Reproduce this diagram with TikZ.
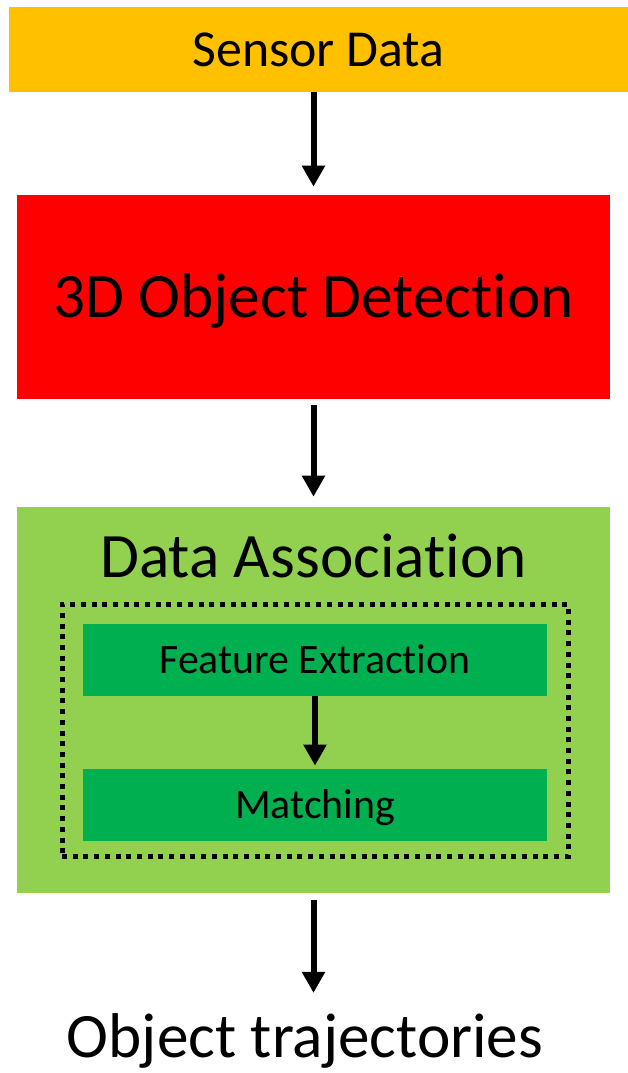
\documentclass[tikz,border=0pt]{standalone}
\usepackage{fontspec}
\setmainfont[Ligatures=NoCommon]{Carlito}
\usetikzlibrary{arrows.meta}

\definecolor{sensorOrange}{HTML}{FFC000}
\definecolor{detectRed}{HTML}{FF0000}
\definecolor{assocGreen}{HTML}{92D050}
\definecolor{stepGreen}{HTML}{00B050}

\begin{document}
\begin{tikzpicture}[x=0.02cm, y=-0.02cm,
    block/.style={rectangle, inner sep=0pt, align=center, text depth=0pt},
    bigtext/.style={font=\fontsize{36}{40}\selectfont, text height=23.2pt},
    flow/.style={-{Triangle[width=0.44cm, length=0.42cm]}, line width=0.12cm}]
    \useasboundingbox (0, 0) rectangle (628, 1073);

    % Nodes
    \node[block, fill=sensorOrange, minimum width=12.38cm, minimum height=1.70cm, font=\fontsize{29.5}{32}\selectfont, text height=19pt] at (318.5, 49.5) (sensor) {Sensor Data};
    \node[block, bigtext, fill=detectRed, minimum width=11.86cm, minimum height=4.08cm] at (313.5, 297) (detect) {3D Object Detection};
    \node[block, fill=assocGreen, minimum width=11.86cm, minimum height=7.72cm] at (313.5, 700) (assoc) {};
    \node[block, bigtext, anchor=base] at (313.5, 577) (assocTitle) {Data Association};
    \node[rectangle, draw, line width=0.1cm, dash pattern=on 0.1cm off 0.114cm, minimum width=10.13cm, minimum height=5.04cm] at (315.25, 730.5) (inner) {};
    \node[block, fill=stepGreen, minimum width=9.28cm, minimum height=1.44cm, font=\fontsize{23.8}{26}\selectfont, text height=15.3pt] at (315, 660) (feature) {Feature Extraction};
    \node[block, fill=stepGreen, minimum width=9.28cm, minimum height=1.44cm, font=\fontsize{23.8}{26}\selectfont, text height=15.3pt] at (315, 805) (matching) {Matching};
    \node[block, bigtext, anchor=base, text depth=8pt] at (305, 1057) (traj) {Object trajectories};

    % Arrows
    \draw[flow, shorten >=0.16cm] (sensor.south -| detect.north) -- (detect.north);
    \draw[flow, shorten <=0.12cm, shorten >=0.2cm] (detect) -- (assoc);
    \draw[flow, shorten >=0.06cm] (feature) -- (matching);
    \draw[flow, shorten <=0.14cm, shorten >=0.46cm] (assoc.south) -- (assoc.south |- traj.north);

  \end{tikzpicture}
\end{document}
